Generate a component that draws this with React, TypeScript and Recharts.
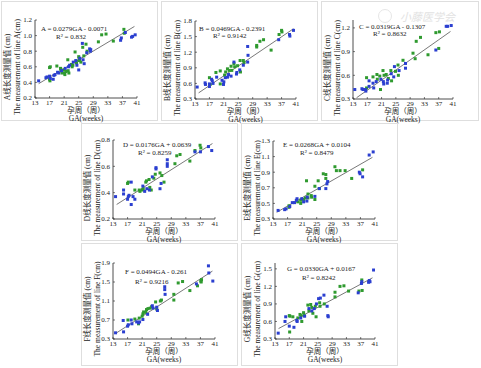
import { ScatterChart, Scatter, XAxis, YAxis, ReferenceLine } from "recharts";

// gestational age ticks shared by every panel
const GA_TICKS = [13, 17, 21, 25, 29, 33, 37, 41];
const FIT_RANGE = [14, 40.3];

const A_BLUE = [[14, 0.42], [16, 0.46], [16.3, 0.47], [17, 0.48], [17.2, 0.45], [18, 0.44], [18.2, 0.49], [18.5, 0.5], [19.2, 0.53], [19.5, 0.52], [20.3, 0.55], [21.3, 0.58], [22.2, 0.6], [22.5, 0.62], [23.5, 0.66], [24.2, 0.68], [24.5, 0.62], [25, 0.56], [25.3, 0.71], [26, 0.9], [26.2, 0.69], [26.5, 0.64], [27.2, 0.78], [28, 0.83], [28.2, 0.8], [28.3, 0.82], [36.5, 0.94], [36.7, 0.97], [37.8, 1.04], [39.5, 0.98], [39.8, 0.99], [40.5, 1.01]];
const A_GREEN = [[17, 0.59], [17.2, 0.6], [17, 0.44], [17.1, 0.42], [19, 0.61], [20, 0.58], [20.1, 0.57], [20.2, 0.55], [20.4, 0.52], [21, 0.56], [21.1, 0.52], [21.2, 0.5], [21.5, 0.54], [22, 0.69], [22.1, 0.55], [22.3, 0.52], [23, 0.63], [23.2, 0.6], [23.4, 0.62], [24, 0.79], [24.3, 0.67], [24.4, 0.65], [25, 0.73], [25.1, 0.7], [25.2, 0.68], [25.6, 0.66], [26.1, 0.85], [26.4, 0.74], [27, 0.89], [27.3, 0.8], [30.4, 0.92], [31.3, 1.01], [32.5, 1.02], [34.5, 0.93], [37.4, 1.08], [37.5, 1.03]];

const B_BLUE = [[13.6, 0.53], [15.8, 0.61], [15.9, 0.58], [17, 0.54], [17, 0.59], [17.6, 0.68], [17.8, 0.65], [18, 0.6], [19, 0.72], [20.5, 0.66], [20.9, 0.58], [21, 0.63], [21.4, 0.71], [22, 0.72], [22.3, 0.77], [23, 0.74], [23.8, 1.01], [24.5, 0.78], [24.6, 0.81], [25.4, 0.86], [26.4, 0.95], [27.6, 1.31], [27.7, 1.14], [27.6, 1.01], [36.2, 1.44], [39.2, 1.54], [39.3, 1.51], [40.3, 1.62]];
const B_GREEN = [[17, 0.71], [17.2, 0.58], [18.8, 0.81], [20, 0.84], [20, 0.59], [21.2, 0.76], [21.5, 0.82], [22, 0.88], [22.5, 0.85], [23, 0.93], [23.2, 0.85], [23.8, 0.98], [24, 0.92], [24.8, 0.94], [25.5, 1.04], [25.6, 0.82], [26.4, 1.04], [26.6, 1.0], [30.1, 1.33], [30.1, 1.3], [31, 1.41], [32, 1.44], [34.1, 1.24], [36.3, 1.54], [37, 1.62], [37.1, 1.59]];

const C_BLUE = [[13.5, 0.42], [15.5, 0.43], [15.8, 0.42], [16.5, 0.42], [16.6, 0.4], [17.5, 0.53], [17.5, 0.46], [18.6, 0.5], [18.8, 0.44], [19.5, 0.52], [20.8, 0.55], [21.5, 0.52], [21.6, 0.49], [22.6, 0.5], [22.7, 0.54], [23.7, 0.62], [24.6, 0.71], [24.4, 0.58], [25.9, 0.66], [27.7, 0.75], [27.7, 0.69], [36.2, 0.92], [39.1, 1.22], [39.5, 1.22], [40.5, 1.23]];
const C_GREEN = [[16.8, 0.44], [16.8, 0.57], [18.6, 0.58], [19.7, 0.61], [19.8, 0.55], [20.5, 0.59], [20.7, 0.42], [21.4, 0.66], [21.7, 0.6], [22.3, 0.61], [22.9, 0.56], [23.6, 0.66], [23.8, 0.53], [24.9, 0.65], [25.6, 0.73], [25.7, 0.6], [27, 0.79], [29.8, 0.88], [30.4, 0.81], [30.7, 1.03], [31.9, 1.08], [34, 0.86], [36.2, 1.14], [37, 0.94], [37.2, 1.15]];

const D_BLUE = [[13.7, 0.37], [15.9, 0.42], [15.9, 0.39], [17, 0.35], [17.2, 0.37], [17.4, 0.38], [18, 0.48], [18, 0.31], [18.5, 0.37], [19, 0.35], [21.2, 0.45], [21.7, 0.41], [22.3, 0.43], [23, 0.42], [23.8, 0.52], [24.8, 0.59], [24.8, 0.58], [25.9, 0.43], [26.2, 0.47], [27.9, 0.62], [27.9, 0.65], [27.9, 0.6], [35.5, 0.71], [37, 0.71], [39.2, 0.75], [40.1, 0.72]];
const D_GREEN = [[17, 0.47], [17.2, 0.48], [19, 0.42], [20.2, 0.42], [20.4, 0.41], [21.1, 0.42], [21.3, 0.43], [22, 0.48], [22.2, 0.49], [22.9, 0.5], [23.1, 0.44], [23.5, 0.42], [24.2, 0.51], [24.6, 0.54], [25.9, 0.55], [26.4, 0.53], [27, 0.48], [30, 0.62], [30.5, 0.68], [31.4, 0.69], [34.1, 0.64], [35.5, 0.72], [36.9, 0.76], [37.1, 0.74]];

const E_BLUE = [[14.4, 0.41], [16.2, 0.42], [16.6, 0.43], [17.6, 0.46], [18.3, 0.51], [18.9, 0.51], [19.4, 0.54], [19.6, 0.56], [20.9, 0.56], [21.4, 0.52], [22.4, 0.58], [22.3, 0.53], [24.5, 0.59], [25.7, 0.69], [27.5, 0.69], [27.8, 0.75], [28, 0.78], [36.7, 0.9], [36.9, 0.88], [37.6, 0.84], [39.4, 1.12], [40.5, 1.16]];
const E_GREEN = [[17.4, 0.47], [17.4, 0.45], [19.8, 0.52], [20.6, 0.5], [20.6, 0.54], [21.4, 0.55], [21.9, 0.57], [22.2, 0.79], [22.6, 0.62], [22.6, 0.57], [23.5, 0.6], [23.6, 0.58], [24.5, 0.72], [24.5, 0.55], [25.4, 0.79], [25.7, 0.69], [26.8, 0.88], [27.5, 0.87], [27.5, 0.82], [30, 0.97], [30.4, 0.92], [31.4, 0.92], [32.8, 0.92], [34.6, 0.82], [37.6, 0.93]];

const F_BLUE = [[13.7, 0.43], [15.8, 0.69], [15.9, 0.45], [17, 0.57], [17.2, 0.6], [18, 0.7], [18.2, 0.62], [19.5, 0.66], [20, 0.64], [20.3, 0.66], [21.2, 0.71], [22.5, 0.82], [23.8, 1.0], [24, 0.95], [25, 0.97], [25.2, 0.9], [27.2, 1.4], [27.2, 1.34], [27.3, 1.24], [35.9, 1.46], [39.2, 1.84], [39.3, 1.69], [40.4, 1.52]];
const F_GREEN = [[17.1, 0.7], [19, 0.72], [20.2, 0.74], [20, 0.62], [21, 0.78], [21.2, 0.83], [21.4, 0.87], [22, 0.86], [22.2, 0.92], [22.6, 0.94], [23.2, 0.95], [23.6, 0.98], [24.7, 1.08], [25, 0.93], [26, 1.1], [26.3, 1.12], [29.7, 1.24], [29.7, 1.12], [30.9, 1.48], [32.1, 1.51], [34.1, 1.32], [36.2, 1.42], [37.1, 1.52], [37.3, 1.55], [37.2, 1.5]];

const G_BLUE = [[13.9, 0.4], [15.8, 0.6], [16, 0.68], [17, 0.52], [18.3, 0.5], [19.1, 0.62], [19.2, 0.6], [20.2, 0.66], [21.3, 0.69], [22.5, 0.82], [23.3, 0.78], [24, 0.82], [24.6, 0.9], [25.2, 0.99], [25.7, 1.0], [26.7, 1.05], [27.6, 0.86], [27.8, 0.7], [27.9, 0.68], [36.3, 1.09], [37.2, 1.25], [37.3, 1.28], [39.2, 1.27], [39.4, 1.3], [39.6, 1.28], [40.6, 1.48]];
const G_GREEN = [[17, 0.7], [17.1, 0.42], [17.2, 0.69], [18, 0.68], [19.4, 0.66], [20, 0.72], [20.3, 0.7], [20.5, 0.6], [21, 0.75], [21.2, 0.7], [22.2, 0.88], [22.5, 0.78], [23, 0.89], [23.3, 0.84], [23.6, 0.74], [24.3, 0.86], [24.5, 0.68], [25.5, 0.92], [25.6, 0.86], [26.8, 0.9], [29.8, 1.1], [29.8, 1.02], [31.2, 1.2], [32.3, 1.21], [33.6, 1.12], [36.5, 1.12], [37.3, 1.31], [37.4, 1.13]];

// regression fits printed on each panel
const LINES = ["A", "B", "C", "D", "E", "F", "G"];
const SLOPES = [0.0279, 0.0469, 0.0319, 0.0176, 0.0268, 0.0494, 0.033];
const INTERCEPTS = [-0.0071, -0.2391, -0.1307, 0.0639, 0.0104, -0.261, 0.0167];
const EQUATIONS = [
  "A = 0.0279GA - 0.0071",
  "B = 0.0469GA - 0.2391",
  "C = 0.0319GA - 0.1307",
  "D = 0.0176GA + 0.0639",
  "E = 0.0268GA + 0.0104",
  "F = 0.0494GA - 0.261",
  "G = 0.0330GA + 0.0167",
];
const R_SQUARED = ["0.832", "0.9142", "0.8632", "0.8259", "0.8479", "0.9216", "0.8242"];
const Y_TICKS = [
  [0.2, 0.4, 0.6, 0.8, 1.0, 1.2],
  [0.3, 0.6, 0.9, 1.2, 1.5, 1.8],
  [0.3, 0.6, 0.9, 1.2],
  [0.2, 0.4, 0.6, 0.8],
  [0.3, 0.5, 0.7, 0.9, 1.1, 1.3],
  [0.3, 0.7, 1.1, 1.5, 1.9],
  [0.3, 0.6, 0.9, 1.2, 1.5],
];
const Y_DOMAINS = [[0.2, 1.2], [0.3, 1.8], [0.3, 1.3], [0.2, 0.8], [0.3, 1.3], [0.3, 1.9], [0.3, 1.6]];
const BLUE = [A_BLUE, B_BLUE, C_BLUE, D_BLUE, E_BLUE, F_BLUE, G_BLUE];
const GREEN = [A_GREEN, B_GREEN, C_GREEN, D_GREEN, E_GREEN, F_GREEN, G_GREEN];

// layout: panel box and plot rectangle (page pixels), equation offsets
const BOXES = [
  { left: 1, top: 1, w: 157, h: 120, pl: 35, pt: 20, pr: 137, pb: 98, eq: [6, 9, 21, 17] },
  { left: 161, top: 1, w: 157, h: 120, pl: 195, pt: 21, pr: 296, pb: 99, eq: [4, 8, 18, 15] },
  { left: 321, top: 1, w: 158, h: 120, pl: 353, pt: 20, pr: 453, pb: 99, eq: [6, 7, 20, 14] },
  { left: 81, top: 123, w: 157, h: 118, pl: 113, pt: 140, pr: 215, pb: 219, eq: [10, 5, 25, 13] },
  { left: 241, top: 123, w: 157, h: 118, pl: 273, pt: 141, pr: 375, pb: 219, eq: [10, 4, 27, 12] },
  { left: 81, top: 243, w: 157, h: 123, pl: 113, pt: 263, pr: 215, pb: 339, eq: [12, 9, 22, 19] },
  { left: 241, top: 243, w: 157, h: 123, pl: 275, pt: 263, pr: 375, pb: 339, eq: [12, 6, 27, 15] },
];

const SERIF = '"Liberation Serif", "Noto Sans CJK SC", serif';
const INK = "#222";

const toPoints = (rows: number[][]) => rows.map(([x, y]) => ({ x, y }));

const Square = (color: string) => (props: any) => (
  <rect x={props.cx - 1.5} y={props.cy - 1.5} width={3} height={3} fill={color} />
);

const XTick = ({ x, y, payload }: any) => (
  <g>
    <line x1={x} x2={x} y1={y - 2} y2={y - 4} stroke={INK} strokeWidth={0.6} />
    <text x={x} y={y + 2.5} dy="0.35em" textAnchor="middle" fontSize={7} fill={INK} fontFamily={SERIF}>
      {payload.value}
    </text>
  </g>
);

const YTick = ({ x, y, payload }: any) => (
  <g>
    <line x1={x + 3} x2={x + 5} y1={y} y2={y} stroke={INK} strokeWidth={0.6} />
    <text x={x} y={y} dy="0.35em" textAnchor="end" fontSize={7} fill={INK} fontFamily={SERIF}>
      {Number(payload.value).toFixed(1)}
    </text>
  </g>
);

const textStyle = (size: number) => ({
  position: "absolute" as const,
  whiteSpace: "nowrap" as const,
  fontSize: size,
  fontFamily: SERIF,
  color: INK,
  lineHeight: 1,
});

function Panel({ i }: { i: number }) {
  const b = BOXES[i];
  const name = LINES[i];
  const fit = FIT_RANGE.map((x) => ({ x, y: SLOPES[i] * x + INTERCEPTS[i] }));
  const cx = (b.pl + b.pr) / 2 - b.left;
  const cy = (b.pt + b.pb) / 2 - b.top + 8;
  const bottom = b.pb - b.top;
  return (
    <div style={{ position: "absolute", left: b.left, top: b.top, width: b.w, height: b.h }}>
      <div
        style={{
          position: "absolute",
          inset: 0,
          boxSizing: "border-box",
          border: "1px solid #dedede",
          background: "#fff",
        }}
      />
      <div style={{ position: "absolute", left: 0, top: 0 }}>
        <ScatterChart
          width={b.w}
          height={b.h}
          margin={{ top: b.pt - b.top, right: b.left + b.w - b.pr, left: 0, bottom: 0 }}
        >
          <XAxis
            type="number"
            dataKey="x"
            domain={[13, 41]}
            ticks={GA_TICKS}
            interval={0}
            allowDataOverflow
            height={b.top + b.h - b.pb}
            tickSize={0}
            tickMargin={2}
            tick={<XTick />}
            axisLine={{ stroke: INK, strokeWidth: 0.8 }}
          />
          <YAxis
            type="number"
            dataKey="y"
            domain={Y_DOMAINS[i]}
            ticks={Y_TICKS[i]}
            interval={0}
            allowDataOverflow
            width={b.pl - b.left}
            tickSize={0}
            tickMargin={3}
            tick={<YTick />}
            axisLine={{ stroke: INK, strokeWidth: 0.8 }}
          />
          <ReferenceLine segment={fit} stroke="#555" strokeWidth={0.8} ifOverflow="visible" />
          <Scatter data={toPoints(GREEN[i])} shape={Square("#2f9a2f")} isAnimationActive={false} />
          <Scatter data={toPoints(BLUE[i])} shape={Square("#2b3fd0")} isAnimationActive={false} />
        </ScatterChart>
      </div>
      <div style={{ ...textStyle(7.5), left: 7, top: cy, transform: "translate(-50%, -50%) rotate(-90deg)" }}>
        {`${name}线长度测量值 (cm)`}
      </div>
      <div style={{ ...textStyle(7.5), left: 17, top: cy, transform: "translate(-50%, -50%) rotate(-90deg)" }}>
        {`The measurement of line ${name}(cm)`}
      </div>
      <div style={{ ...textStyle(7.5), left: cx, top: bottom + 12.5, transform: "translate(-50%, -50%)" }}>
        孕周（周）
      </div>
      <div style={{ ...textStyle(7.5), left: cx, top: bottom + 20.5, transform: "translate(-50%, -50%)" }}>
        GA(weeks)
      </div>
      <div
        style={{
          ...textStyle(7),
          left: b.pl - b.left + b.eq[0],
          top: b.pt - b.top + b.eq[1],
          transform: "translateY(-50%)",
        }}
      >
        {EQUATIONS[i]}
      </div>
      <div
        style={{
          ...textStyle(7),
          left: b.pl - b.left + b.eq[2],
          top: b.pt - b.top + b.eq[3],
          transform: "translateY(-50%)",
        }}
      >
        {`R² = ${R_SQUARED[i]}`}
      </div>
    </div>
  );
}

export default function App() {
  return (
    <div style={{ position: "absolute", left: 0, top: 0, width: 481, height: 368, background: "#fff" }}>
      {LINES.map((_, i) => (
        <Panel key={i} i={i} />
      ))}
      <div
        style={{
          position: "absolute",
          left: 378,
          top: 9,
          width: 12,
          height: 12,
          borderRadius: "50%",
          border: "1px solid #e6e6e6",
        }}
      />
      <div
        style={{
          position: "absolute",
          left: 400,
          top: 8,
          fontSize: 11,
          fontStyle: "italic",
          color: "#e2e2e2",
          fontFamily: SERIF,
          whiteSpace: "nowrap",
        }}
      >
        小藤医学会
      </div>
    </div>
  );
}
